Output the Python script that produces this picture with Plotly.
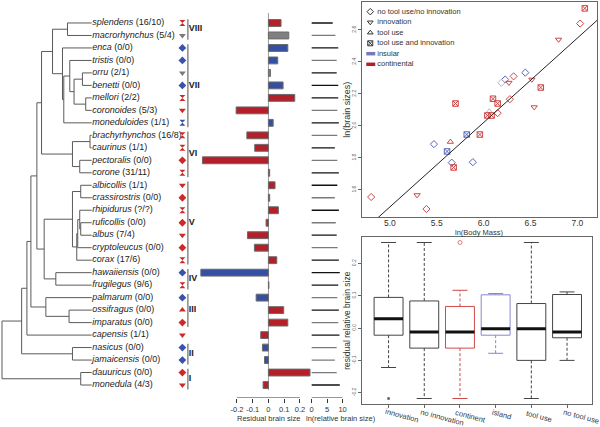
import plotly.graph_objects as go

W, H = 600, 427
FONT = "Liberation Sans, Arial, sans-serif"

# ---------------- data ----------------
species = ["splendens", "macrorhynchus", "enca", "tristis", "orru", "benetti", "mellori",
           "coronoides", "moneduloides", "brachyrhynchos", "caurinus", "pectoralis", "corone",
           "albicollis", "crassirostris", "rhipidurus", "ruficollis", "albus", "cryptoleucus",
           "corax", "hawaiiensis", "frugilegus", "palmarum", "ossifragus", "imparatus",
           "capensis", "nasicus", "jamaicensis", "dauuricus", "monedula"]
counts = ["16/10", "5/4", "0/0", "0/0", "2/1", "0/0", "2/2", "5/3", "1/1", "16/8", "1/1", "0/0",
          "31/11", "1/1", "0/0", "?/?", "0/0", "7/4", "0/0", "17/6", "0/0", "9/6", "0/0", "0/0",
          "0/0", "1/1", "0/0", "0/0", "0/0", "4/3"]
# behaviour group: tui = tool use and innovation, inn = innovation, tool = tool use, none
sp_group = ["tui", "inn", "none", "none", "inn", "none", "tui", "inn", "tui", "tui", "tui", "none",
            "tui", "inn", "none", "tui", "none", "inn", "none", "tui", "none", "tui", "none", "tool",
            "none", "inn", "none", "none", "none", "inn"]
# habitat: c = continental, i = insular, u = unknown
sp_habitat = ["c", "u", "i", "i", "u", "i", "c", "c", "i", "c", "c", "c", "c", "c", "c", "c", "c",
              "c", "c", "c", "i", "c", "i", "c", "c", "c", "i", "i", "c", "c"]
residual = [0.080, 0.129, 0.123, 0.059, 0.013, 0.093, 0.167, -0.205, 0.030, -0.137, -0.087,
            -0.419, 0.008, 0.042, 0.008, 0.063, -0.015, -0.133, -0.089, 0.053, -0.429, 0.003,
            -0.078, 0.097, 0.123, -0.049, -0.038, -0.025, 0.264, -0.034]
ln_rel_brain = [6.8, 7.7, 8.6, 8.1, 8.1, 8.6, 8.6, 8.3, 8.8, 8.3, 7.5, 8.3, 8.8, 8.3, 7.5, 8.8,
                7.8, 8.1, 8.4, 8.8, 9.1, 8.6, 8.3, 8.8, 8.6, 9.0, 8.1, 7.5, 8.1, 9.1]
ln_shade = ["k", "g", "k", "g", "k", "k", "k", "g", "k", "g", "k", "g", "k", "k", "g", "k", "g",
            "k", "g", "k", "k", "k", "g", "k", "g", "k", "g", "g", "g", "k"]

# tree topology (internal nodes, their parents and depths)
node_names = ["root", "P", "O", "M", "H", "F", "B", "A", "C", "C2", "D", "E", "OB", "MC", "G",
              "BC", "PC", "I", "J", "AC", "K", "L", "RRA", "RA", "HF", "N", "ON", "NJ", "DM"]
node_parent = [None, "root", "P", "O", "M", "H", "F", "B", "B", "C", "C2", "D", "E", "E", "F",
               "G", "G", "H", "I", "J", "J", "K", "L", "RRA", "I", "M", "N", "P", "root"]
node_depth = [1, 20.7, 26, 30, 36, 40.7, 51.7, 66.7, 61.7, 63, 69, 73.3, 81.7, 85, 71.7, 89.3,
              79, 43.3, 71.7, 80, 76, 77, 79, 80, 55, 45, 68.3, 71.7, 80]
tip_parent = ["A", "A", "C", "D", "OB", "OB", "MC", "MC", "C2", "BC", "BC", "PC", "PC", "AC",
              "AC", "RRA", "RA", "RA", "L", "K", "HF", "HF", "N", "ON", "ON", "O", "NJ", "NJ",
              "DM", "DM"]
tip_depth = 91

clade_names = ["VIII", "VII", "VI", "V", "IV", "III", "II", "I"]
clade_first = [0, 2, 9, 13, 20, 22, 26, 28]
clade_last = [1, 8, 12, 19, 21, 24, 27, 29]

# scatter: ln(body mass) vs ln(brain size)
body_mass = [7.08, 7.03, 6.80, 6.445, 6.32, 6.23, 6.19, 6.27, 6.515, 6.61, 6.10, 6.28, 6.15,
             5.70, 6.54, 6.06, 6.04, 6.085, 6.15, 5.82, 5.96, 5.47, 5.645, 5.61, 5.66, 5.68,
             5.885, 5.29, 5.39, 4.80]
brain_size = [2.735, 2.64, 2.54, 2.333, 2.31, 2.29, 2.27, 2.27, 2.29, 2.24, 2.17, 2.167, 2.14,
              2.14, 2.117, 2.09, 2.065, 2.065, 2.08, 1.946, 1.946, 1.886, 1.90, 1.84, 1.77,
              1.74, 1.773, 1.567, 1.48, 1.555]
pt_group = ["tui", "none", "inn", "none", "none", "none", "none", "inn", "inn", "tui", "tui",
            "none", "tui", "tui", "inn", "tool", "tui", "tui", "none", "tui", "tui", "none",
            "tool", "tui", "none", "tui", "none", "inn", "none", "none"]
pt_habitat = ["c", "c", "c", "i", "c", "i", "u", "c", "c", "c", "c", "c", "c", "c", "c", "u",
              "c", "c", "c", "i", "c", "i", "c", "i", "i", "c", "i", "c", "c", "c"]
fit_intercept = -1.147
fit_slope = 0.528
x_ticks_bm = [5.0, 5.5, 6.0, 6.5, 7.0]
y_ticks_br = [1.6, 1.8, 2.0, 2.2, 2.4, 2.6]

# box plot: residual relative brain size
box_labels = ["innovation", "no innovation", "continent", "island", "tool use", "no tool use"]
box_lo = [-0.122, -0.218, -0.218, -0.078, -0.218, -0.100]
box_q1 = [-0.022, -0.062, -0.062, -0.022, -0.100, -0.030]
box_med = [0.029, -0.012, -0.012, -0.002, -0.002, -0.012]
box_q3 = [0.095, 0.084, 0.067, 0.103, 0.076, 0.104]
box_hi = [0.265, 0.265, 0.117, 0.107, 0.265, 0.112]
box_tone = ["k", "k", "r", "b", "k", "k"]
out_box = [0, 2]
out_val = [-0.218, 0.265]
box_ticks = [-0.2, -0.1, 0.0, 0.1, 0.2]

legend_labels = ["no tool use/no innovation", "innovation", "tool use", "tool use and innovation",
                 "insular", "continental"]

# ---------------- styles ----------------
MARK_RED, MARK_BLUE, MARK_GRAY = "#cc2a2a", "#3a52a8", "#7a7a7a"
BAR_COL = {"c": "#b3202a", "i": "#3550a3", "u": "#808080"}
COL_COL = {"c": MARK_RED, "i": MARK_BLUE, "u": MARK_GRAY}
SC_COL = {"c": "#d04545", "i": "#5666b8", "u": "#b8b8b8"}
SYM_FILLED = {"tui": "hourglass", "inn": "triangle-down", "tool": "triangle-up", "none": "diamond"}
SYM_OPEN = {"tui": "square-x-open", "inn": "triangle-down-open", "tool": "triangle-up-open",
            "none": "diamond-open"}
BOX_COL = {"k": "#444444", "r": "#d04848", "b": "#8888cc"}
OUT_COL = {"k": "#111111", "r": "#d04848", "b": "#8888cc"}
# label offsets (pixels) for slanted box-plot category labels
box_lab_dx = [13, 18, 11, 6, 8, 14]
box_lab_y = [415, 417, 416, 414, 416, 416]


def fx(p):
    return p / W


def fy(p):
    return 1 - p / H


fig = go.Figure()
n = len(species)
rows = list(range(n))

# ---------------- tree ----------------
y_of = {}
depth_of = dict(zip(node_names, node_depth))
children = {nm: [] for nm in node_names}
for i, p in enumerate(tip_parent):
    y_of["tip%d" % i] = i
    children[p].append("tip%d" % i)
for nm, p in zip(node_names, node_parent):
    if p is not None:
        children[p].append(nm)
for i in range(n):
    depth_of["tip%d" % i] = tip_depth


def node_y(nm):
    if nm in y_of:
        return y_of[nm]
    ys = [node_y(c) for c in children[nm]]
    y_of[nm] = (min(ys) + max(ys)) / 2
    return y_of[nm]


node_y("root")
parent_of = dict(zip(node_names, node_parent))
for i, p in enumerate(tip_parent):
    parent_of["tip%d" % i] = p

tx, ty = [], []
for nm, p in parent_of.items():
    if p is None:
        continue
    tx += [depth_of[p], depth_of[nm], None]
    ty += [y_of[nm], y_of[nm], None]
for nm in node_names:
    ys = [y_of[c] for c in children[nm]]
    tx += [depth_of[nm], depth_of[nm], None]
    ty += [min(ys), max(ys), None]
fig.add_trace(go.Scatter(x=tx, y=ty, mode="lines", line=dict(color="#5a5a5a", width=1),
                         hoverinfo="skip", showlegend=False, xaxis="x", yaxis="y"))

fig.add_trace(go.Scatter(
    x=[tip_depth + 0.5] * n, y=rows, mode="text",
    text=["<i>%s</i> (%s)" % (s, c) for s, c in zip(species, counts)],
    textposition="middle right", textfont=dict(size=9, color="#222", family=FONT),
    showlegend=False, hoverinfo="skip", xaxis="x", yaxis="y", cliponaxis=False))

# marker column
fig.add_trace(go.Scatter(
    x=[182] * n, y=rows, mode="markers",
    marker=dict(symbol=[SYM_FILLED[g] for g in sp_group],
                color=[COL_COL[h] for h in sp_habitat], size=6, line=dict(width=0)),
    showlegend=False, hoverinfo="skip", xaxis="x", yaxis="y", cliponaxis=False))

# clade bars and labels
cx, cy = [], []
for f, l in zip(clade_first, clade_last):
    cx += [187.5, 187.5, None]
    cy += [f - 0.3, l + 0.35, None]
fig.add_trace(go.Scatter(x=cx, y=cy, mode="lines", line=dict(color="#777", width=1.3),
                         showlegend=False, hoverinfo="skip", xaxis="x", yaxis="y"))
fig.add_trace(go.Scatter(
    x=[188.5] * len(clade_names), y=[(f + l) / 2 for f, l in zip(clade_first, clade_last)],
    mode="text", text=["<b>%s</b>" % c for c in clade_names], textposition="middle right",
    textfont=dict(size=9, color="#222", family=FONT), showlegend=False, hoverinfo="skip",
    xaxis="x", yaxis="y", cliponaxis=False))

# ---------------- residual bars ----------------
fig.add_trace(go.Bar(
    x=residual, y=rows, orientation="h", width=0.55,
    marker=dict(color=[BAR_COL[h] for h in sp_habitat], line=dict(color="#6a6a6a", width=1)),
    showlegend=False, hoverinfo="skip", xaxis="x2", yaxis="y2"))
fig.add_shape(type="line", xref="x2", yref="y2", x0=0, x1=0, y0=-0.8, y1=n - 0.6,
              line=dict(color="#9a9a9a", width=1), layer="below")
bar_ticks = [-0.2, -0.1, 0, 0.1, 0.2]
fig.add_trace(go.Scatter(x=[bar_ticks[0], bar_ticks[-1]], y=[30.0, 30.0], mode="lines",
                         line=dict(color="#333", width=1), cliponaxis=False,
                         showlegend=False, hoverinfo="skip", xaxis="x2", yaxis="y2"))

# ---------------- ln relative brain size segments ----------------
sx_k, sy_k, sx_g, sy_g = [], [], [], []
for i, (v, s) in enumerate(zip(ln_rel_brain, ln_shade)):
    if s == "k":
        sx_k += [0, v, None]
        sy_k += [i, i, None]
    else:
        sx_g += [0, v, None]
        sy_g += [i, i, None]
fig.add_trace(go.Scatter(x=sx_k, y=sy_k, mode="lines", line=dict(color="#111", width=1.3),
                         showlegend=False, hoverinfo="skip", xaxis="x3", yaxis="y3"))
fig.add_trace(go.Scatter(x=sx_g, y=sy_g, mode="lines", line=dict(color="#7a7a7a", width=1.3),
                         showlegend=False, hoverinfo="skip", xaxis="x3", yaxis="y3"))
ln_ticks = [0, 5, 10]
fig.add_trace(go.Scatter(x=[ln_ticks[0], ln_ticks[-1]], y=[30.0, 30.0], mode="lines",
                         line=dict(color="#333", width=1), cliponaxis=False,
                         showlegend=False, hoverinfo="skip", xaxis="x3", yaxis="y3"))

# ---------------- scatter ----------------
fig.add_trace(go.Scatter(
    x=body_mass, y=brain_size, mode="markers",
    marker=dict(symbol=[SYM_OPEN[g] for g in pt_group], size=5.5,
                color=[SC_COL[h] for h in pt_habitat],
                line=dict(width=1, color=[SC_COL[h] for h in pt_habitat])),
    showlegend=False, hoverinfo="skip", xaxis="x4", yaxis="y4"))
fx0, fx1 = 4.70, 7.21
fig.add_trace(go.Scatter(x=[fx0, fx1], y=[fit_intercept + fit_slope * fx0, fit_intercept + fit_slope * fx1],
                         mode="lines", line=dict(color="#222", width=1),
                         showlegend=False, hoverinfo="skip", xaxis="x4", yaxis="y4"))

# ---------------- box plot ----------------
bw, cw = 0.405, 0.21
for i in range(len(box_labels)):
    col = BOX_COL[box_tone[i]]
    fig.add_trace(go.Scatter(x=[i - bw, i + bw, i + bw, i - bw, i - bw],
                             y=[box_q1[i], box_q1[i], box_q3[i], box_q3[i], box_q1[i]],
                             mode="lines", line=dict(color=col, width=1),
                             showlegend=False, hoverinfo="skip", xaxis="x5", yaxis="y5"))
    fig.add_trace(go.Scatter(x=[i, i, None, i, i], y=[box_q3[i], box_hi[i], None, box_q1[i], box_lo[i]],
                             mode="lines", line=dict(color=col, width=1, dash="3px,2px"),
                             showlegend=False, hoverinfo="skip", xaxis="x5", yaxis="y5"))
    fig.add_trace(go.Scatter(x=[i - cw, i + cw, None, i - cw, i + cw],
                             y=[box_hi[i], box_hi[i], None, box_lo[i], box_lo[i]],
                             mode="lines", line=dict(color=col, width=1),
                             showlegend=False, hoverinfo="skip", xaxis="x5", yaxis="y5"))
    fig.add_trace(go.Scatter(x=[i - bw, i + bw], y=[box_med[i], box_med[i]],
                             mode="lines", line=dict(color="#111", width=3),
                             showlegend=False, hoverinfo="skip", xaxis="x5", yaxis="y5"))
    fig.add_annotation(text=box_labels[i], x=i, xref="x5", y=fy(box_lab_y[i]), yref="paper",
                       xshift=box_lab_dx[i], showarrow=False, textangle=15,
                       font=dict(size=7.5, color="#333", family=FONT),
                       xanchor="center", yanchor="middle")
fig.add_trace(go.Scatter(x=out_box, y=out_val, mode="markers",
                         marker=dict(symbol=["square", "circle-open"], size=[2.5, 4],
                                     color=[OUT_COL[box_tone[b]] for b in out_box],
                                     line=dict(width=[0, 1], color=[OUT_COL[box_tone[b]] for b in out_box])),
                         showlegend=False, hoverinfo="skip", xaxis="x5", yaxis="y5"))

# ---------------- manual legend (pixel overlay) ----------------
leg_y = [11.7, 22.3, 32.7, 43.3, 53.7, 64.3]
groups = ["none", "inn", "tool", "tui"]
fig.add_trace(go.Scatter(x=[370.5] * 4, y=leg_y[:4], mode="markers",
                         marker=dict(symbol=[SYM_OPEN[g] for g in groups], size=5,
                                     color="#333", line=dict(width=1, color="#333")),
                         showlegend=False, hoverinfo="skip", xaxis="x6", yaxis="y6"))
fig.add_trace(go.Scatter(x=[366.5, 375.5], y=[leg_y[4]] * 2, mode="lines",
                         line=dict(color="#7777c0", width=3.5),
                         showlegend=False, hoverinfo="skip", xaxis="x6", yaxis="y6"))
fig.add_trace(go.Scatter(x=[366.5, 375.5], y=[leg_y[5]] * 2, mode="lines",
                         line=dict(color="#b3202a", width=3.5),
                         showlegend=False, hoverinfo="skip", xaxis="x6", yaxis="y6"))
fig.add_trace(go.Scatter(x=[377.5] * 6, y=leg_y, mode="text", text=legend_labels,
                         textposition="middle right", textfont=dict(size=7.5, color="#333", family=FONT),
                         showlegend=False, hoverinfo="skip", xaxis="x6", yaxis="y6", cliponaxis=False))

# ---------------- layout ----------------
row_dom = [fy(397.5), fy(10.5)]
row_rng = [30.0, -1.0]
hidden = dict(visible=False, showgrid=False, zeroline=False)
tickfont = dict(size=7.5, color="#333", family=FONT)

fig.update_layout(
    width=W, height=H, margin=dict(l=0, r=0, t=0, b=0),
    paper_bgcolor="white", plot_bgcolor="rgba(0,0,0,0)", showlegend=False,
    font=dict(family=FONT, color="#333"),
    xaxis=dict(domain=[0, fx(196)], range=[0, 196], anchor="y", **hidden),
    yaxis=dict(domain=row_dom, range=row_rng, anchor="x", **hidden),
    xaxis2=dict(domain=[fx(196), fx(311)], range=[-0.4576, 0.270], anchor="y2",
                showgrid=False, zeroline=False, showline=False, ticks="outside", ticklen=4,
                tickcolor="#333", tickvals=bar_ticks, ticktext=["-0.2", "-0.1", "0", "0.1", "0.2"],
                tickangle=0, tickfont=tickfont),
    yaxis2=dict(domain=row_dom, range=row_rng, anchor="x2", **hidden),
    xaxis3=dict(domain=[fx(311), fx(346)], range=[-0.23, 11.06], anchor="y3",
                showgrid=False, zeroline=False, showline=False, ticks="outside", ticklen=4,
                tickcolor="#333", tickvals=ln_ticks, tickangle=0, tickfont=tickfont),
    yaxis3=dict(domain=row_dom, range=row_rng, anchor="x3", **hidden),
    xaxis4=dict(domain=[fx(362), fx(598)], range=[4.70, 7.21], anchor="y4",
                showgrid=False, zeroline=False, showline=True, mirror=True, linecolor="#666",
                ticks="", tickvals=x_ticks_bm, ticklabelstandoff=-2,
                ticktext=["%.1f" % v for v in x_ticks_bm],
                tickfont=dict(size=8.5, color="#333", family=FONT)),
    yaxis4=dict(domain=[fy(217), fy(2)], range=[1.43, 2.775], anchor="x4",
                showgrid=False, zeroline=False, showline=True, mirror=True, linecolor="#666",
                ticks="outside", ticklen=3, tickcolor="#666", tickvals=y_ticks_br,
                ticktext=["%.1f" % v for v in y_ticks_br], tickangle=-90,
                tickfont=dict(size=5, color="#666", family=FONT)),
    xaxis5=dict(domain=[fx(362), fx(593)], range=[-0.75, 5.7], anchor="y5",
                showgrid=False, zeroline=False, showline=True, mirror=True, linecolor="#666",
                ticks="outside", ticklen=3, tickcolor="#666", tickvals=list(range(len(box_labels))),
                showticklabels=False),
    yaxis5=dict(domain=[fy(404), fy(237)], range=[-0.235, 0.282], anchor="x5",
                showgrid=False, zeroline=False, showline=True, mirror=True, linecolor="#666",
                ticks="outside", ticklen=3, tickcolor="#666", tickvals=box_ticks,
                ticktext=["%.1f" % v for v in box_ticks], tickangle=-90,
                tickfont=dict(size=5, color="#666", family=FONT)),
    xaxis6=dict(domain=[0, 1], range=[0, W], anchor="y6", **hidden),
    yaxis6=dict(domain=[0, 1], range=[H, 0], anchor="x6", **hidden),
)

annots = [
    dict(text="Residual brain size", x=fx(268), y=fy(418), size=7.5, angle=0),
    dict(text="ln(relative brain size)", x=fx(341), y=fy(418), size=7.5, angle=0),
    dict(text="ln(Body Mass)", x=fx(480), y=fy(232.5), size=7.5, angle=0),
    dict(text="ln(brain sizes)", x=fx(347), y=fy(110), size=9, angle=-90),
    dict(text="residual relative brain size", x=fx(347), y=fy(320), size=8.5, angle=-90),
]
for a in annots:
    fig.add_annotation(text=a["text"], x=a["x"], y=a["y"], xref="paper", yref="paper",
                       showarrow=False, textangle=a["angle"],
                       font=dict(size=a["size"], color="#333", family=FONT),
                       xanchor="center", yanchor="middle")

fig.write_html("out.html", config={"displayModeBar": False},
               post_script="document.body.style.margin='0';document.body.style.padding='0';")
